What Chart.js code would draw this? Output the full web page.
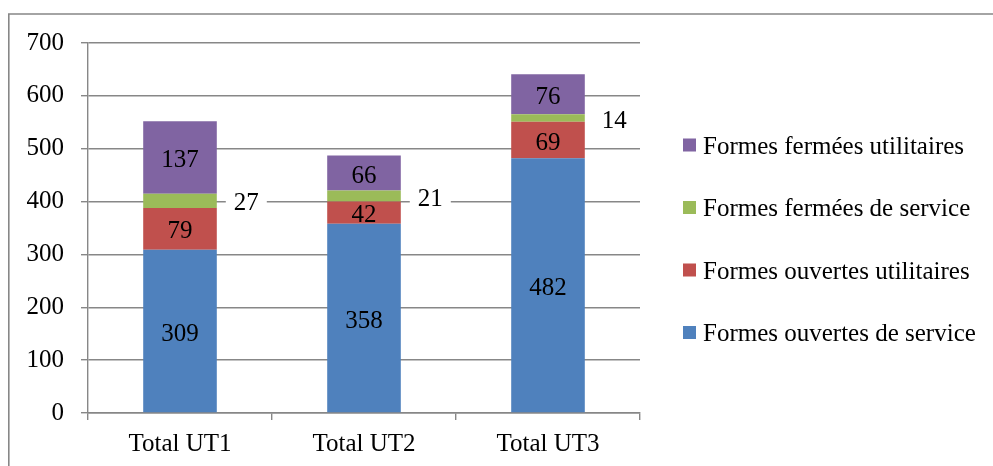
<!DOCTYPE html>
<html lang="fr">
<head>
<meta charset="UTF-8">
<title>Formes par UT</title>
<script src="https://cdn.jsdelivr.net/npm/chart.js@4"></script>
<style>
  html, body { margin: 0; padding: 0; background: #fff; }
  .cadre { position: relative; width: 993px; height: 466px; }
</style>
</head>
<body>
<div class="cadre">
    <canvas id="graphique" width="993" height="466"></canvas>
</div>

<script>
    // données
    const categories = ['Total UT1', 'Total UT2', 'Total UT3'];
    const ouvertesService = [309, 358, 482];
    const ouvertesUtilitaires = [79, 42, 69];
    const fermeesService = [27, 21, 14];
    const fermeesUtilitaires = [137, 66, 76];
    const graduationMax = 700;
    const graduationPas = 100;

    const POLICE = '25px "Liberation Serif", "Times New Roman", serif';
    const GRIS = '#878787';

    // cadre gris en haut et à gauche
    const cadre = {
        id: 'cadre',
        beforeDraw(chart) {
            const ctx = chart.ctx;
            ctx.save();
            ctx.strokeStyle = GRIS;
            ctx.lineWidth = 1.6;
            ctx.beginPath();
            ctx.moveTo(8.8, chart.height);
            ctx.lineTo(8.8, 14);
            ctx.lineTo(chart.width, 14);
            ctx.stroke();
            ctx.restore();
        }
    };

    // valeurs écrites sur les barres
    const etiquettes = {
        id: 'etiquettes',
        afterDatasetsDraw(chart) {
            const ctx = chart.ctx;
            ctx.save();
            ctx.font = POLICE;
            ctx.textBaseline = 'middle';
            chart.data.datasets.forEach(function (ds, i) {
                const meta = chart.getDatasetMeta(i);
                meta.data.forEach(function (barre, j) {
                    const texte = String(ds.data[j]);
                    const yc = (barre.y + barre.base) / 2 + 3;
                    if (ds.etiquetteDehors) {
                        const x = barre.x + barre.width / 2 + 17;
                        const w = ctx.measureText(texte).width;
                        ctx.fillStyle = '#fff';
                        ctx.fillRect(x - 8, yc - 13, w + 16, 24);
                        ctx.fillStyle = '#000';
                        ctx.textAlign = 'left';
                        ctx.fillText(texte, x, yc);
                    } else {
                        ctx.fillStyle = '#000';
                        ctx.textAlign = 'center';
                        ctx.fillText(texte, barre.x, yc);
                    }
                });
            });
            ctx.restore();
        }
    };

    // légende à droite, dernière série en haut
    const legende = {
        id: 'legende',
        afterDraw(chart) {
            const ctx = chart.ctx;
            const x0 = 683, y0 = 145, pas = 62.5, cote = 13;
            ctx.save();
            ctx.font = POLICE;
            ctx.textBaseline = 'middle';
            ctx.textAlign = 'left';
            const series = chart.data.datasets.slice().reverse();
            series.forEach(function (ds, k) {
                const y = y0 + k * pas;
                ctx.fillStyle = ds.backgroundColor;
                ctx.fillRect(x0, y - cote / 2, cote, cote);
                ctx.fillStyle = '#000';
                ctx.fillText(ds.label, x0 + 20, y + 2);
            });
            ctx.restore();
        }
    };

    const donnees = {
        labels: categories,
        datasets: [
            { label: 'Formes ouvertes de service', data: ouvertesService, backgroundColor: '#4F81BD' },
            { label: 'Formes ouvertes utilitaires', data: ouvertesUtilitaires, backgroundColor: '#C0504D' },
            { label: 'Formes fermées de service', data: fermeesService, backgroundColor: '#9BBB59', etiquetteDehors: true },
            { label: 'Formes fermées utilitaires', data: fermeesUtilitaires, backgroundColor: '#8064A2' }
        ]
    };

    const config = {
        type: 'bar',
        data: donnees,
        options: {
            responsive: false,
            animation: false,
            devicePixelRatio: 1,
            barPercentage: 0.4,
            categoryPercentage: 1,
            layout: {
                padding: { top: 43, right: 353, bottom: 0, left: 0 }
            },
            scales: {
                x: {
                    stacked: true,
                    afterFit: function (s) { s.height = 53; },
                    border: { color: GRIS, width: 1.4 },
                    grid: { drawOnChartArea: false, color: GRIS, lineWidth: 1.4, tickLength: 7 },
                    ticks: {
                        color: '#000',
                        padding: 9,
                        font: { family: '"Liberation Serif", serif', size: 25 }
                    }
                },
                y: {
                    stacked: true,
                    min: 0,
                    max: graduationMax,
                    afterFit: function (s) { s.width = 88; },
                    border: { color: GRIS, width: 1.4 },
                    grid: { color: GRIS, lineWidth: 1.4, tickLength: 7 },
                    ticks: {
                        stepSize: graduationPas,
                        color: '#000',
                        padding: 17,
                        font: { family: '"Liberation Serif", serif', size: 25 }
                    }
                }
            },
            plugins: {
                legend: { display: false },
                tooltip: { enabled: false }
            }
        },
        plugins: [cadre, etiquettes, legende]
    };

    new Chart(document.getElementById('graphique'), config);
</script>
</body>
</html>
